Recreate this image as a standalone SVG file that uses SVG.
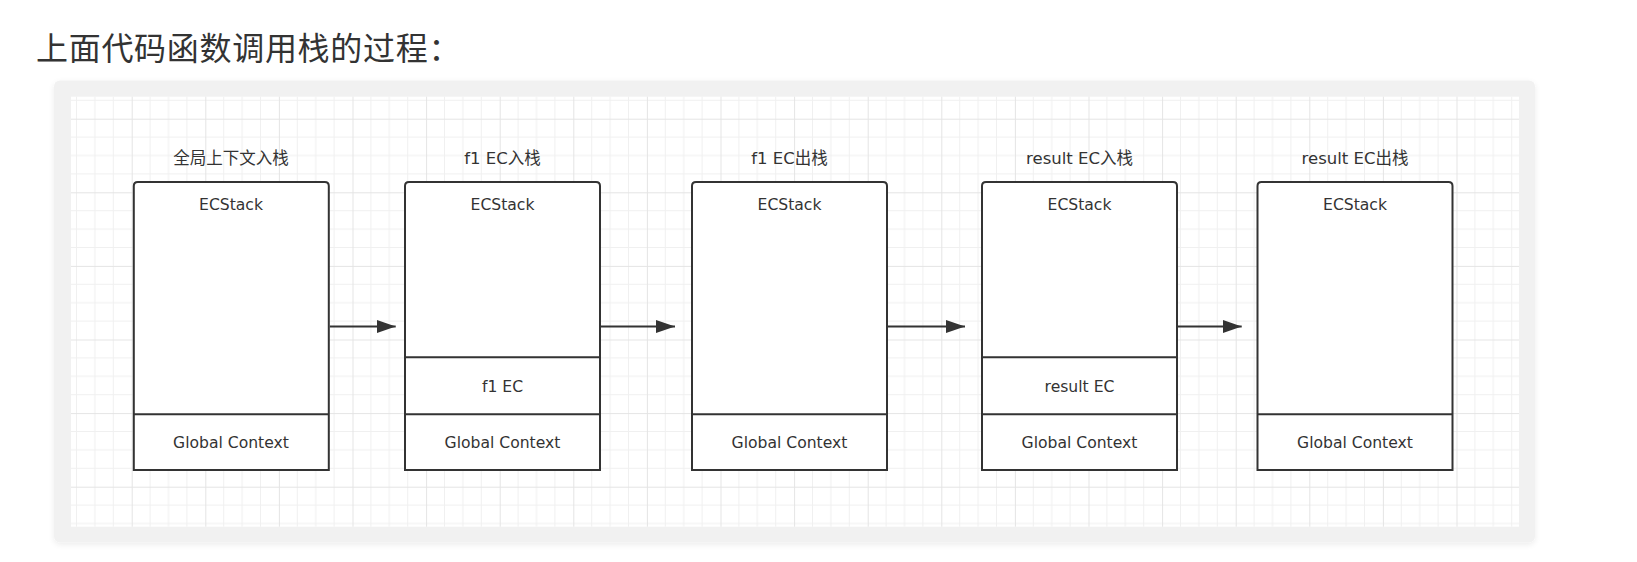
<svg xmlns="http://www.w3.org/2000/svg" width="1637" height="562" viewBox="0 0 1637 562">
  <style>
    .heading { font-family: "Noto Sans CJK SC", "Noto Sans", sans-serif; font-size: 32px; letter-spacing: 0.7px; fill: #333333; }
    .title { font-family: "DejaVu Sans", "Noto Sans CJK SC", sans-serif; font-size: 16.5px; fill: #333333; text-anchor: middle; }
    .label { font-family: "DejaVu Sans", "Noto Sans CJK SC", sans-serif; font-size: 15.6px; fill: #333333; text-anchor: middle; }
    .box { fill: #ffffff; stroke: #333333; stroke-width: 2; }
    .div { stroke: #333333; stroke-width: 2; fill: none; }
    .conn { stroke: #333333; stroke-width: 2; fill: none; }
  </style>
  <defs>
    <pattern id="grid" patternUnits="userSpaceOnUse" x="131.7" y="118.7" width="73.6" height="73.6">
      <path d="M18.4 0V73.6M36.8 0V73.6M55.2 0V73.6M0 18.4H73.6M0 36.8H73.6M0 55.2H73.6" stroke="#f0f0f0" stroke-width="1" fill="none"/>
      <path d="M0.5 0V73.6M0 0.5H73.6" stroke="#e4e4e4" stroke-width="1" fill="none"/>
    </pattern>
    <marker id="arrow" viewBox="0 0 19 13" refX="19" refY="6.5" markerWidth="19" markerHeight="13" markerUnits="userSpaceOnUse" orient="auto">
      <path d="M0 0L19 6.5L0 13Z" fill="#333333"/>
    </marker>
    <filter id="shadow" x="-5%" y="-5%" width="110%" height="115%">
      <feGaussianBlur in="SourceAlpha" stdDeviation="3"/>
      <feOffset dy="2"/>
      <feComponentTransfer><feFuncA type="linear" slope="0.08"/></feComponentTransfer>
      <feMerge><feMergeNode/><feMergeNode in="SourceGraphic"/></feMerge>
    </filter>
  </defs>

  <rect width="1637" height="562" fill="#ffffff"/>
  <text class="heading" x="36" y="60">上面代码函数调用栈的过程：</text>

  <rect x="54" y="80.5" width="1481" height="462" rx="6" fill="#f1f1f1" filter="url(#shadow)"/>
  <rect x="71" y="96.7" width="1448" height="430" fill="#ffffff"/>
  <rect x="71" y="96.7" width="1448" height="430" fill="url(#grid)"/>

  <g id="node1">
    <text class="title" x="231" y="164">全局上下文入栈</text>
    <path class="box" d="M133.8 470V186Q133.8 182 137.8 182H324.8Q328.8 182 328.8 186V470Z"/>
    <path class="div" d="M133.8 414.3H328.8"/>
    <text class="label" x="231" y="210">ECStack</text>
    <text class="label" x="231" y="448">Global Context</text>
  </g>

  <g id="node2">
    <text class="title" x="502.5" y="164">f1 EC入栈</text>
    <path class="box" d="M405 470V186Q405 182 409 182H596Q600 182 600 186V470Z"/>
    <path class="div" d="M405 357.3H600M405 414.3H600"/>
    <text class="label" x="502.5" y="210">ECStack</text>
    <text class="label" x="502.5" y="392">f1 EC</text>
    <text class="label" x="502.5" y="448">Global Context</text>
  </g>

  <g id="node3">
    <text class="title" x="789.5" y="164">f1 EC出栈</text>
    <path class="box" d="M692 470V186Q692 182 696 182H883Q887 182 887 186V470Z"/>
    <path class="div" d="M692 414.3H887"/>
    <text class="label" x="789.5" y="210">ECStack</text>
    <text class="label" x="789.5" y="448">Global Context</text>
  </g>

  <g id="node4">
    <text class="title" x="1079.5" y="164">result EC入栈</text>
    <path class="box" d="M982 470V186Q982 182 986 182H1173Q1177 182 1177 186V470Z"/>
    <path class="div" d="M982 357.3H1177M982 414.3H1177"/>
    <text class="label" x="1079.5" y="210">ECStack</text>
    <text class="label" x="1079.5" y="392">result EC</text>
    <text class="label" x="1079.5" y="448">Global Context</text>
  </g>

  <g id="node5">
    <text class="title" x="1355" y="164">result EC出栈</text>
    <path class="box" d="M1257.5 470V186Q1257.5 182 1261.5 182H1448.5Q1452.5 182 1452.5 186V470Z"/>
    <path class="div" d="M1257.5 414.3H1452.5"/>
    <text class="label" x="1355" y="210">ECStack</text>
    <text class="label" x="1355" y="448">Global Context</text>
  </g>

  <g id="connectors">
    <path class="conn" d="M329.8 326.5H395.7" marker-end="url(#arrow)"/>
    <path class="conn" d="M601 326.5H675" marker-end="url(#arrow)"/>
    <path class="conn" d="M888 326.5H965" marker-end="url(#arrow)"/>
    <path class="conn" d="M1178 326.5H1241.7" marker-end="url(#arrow)"/>
  </g>
</svg>
